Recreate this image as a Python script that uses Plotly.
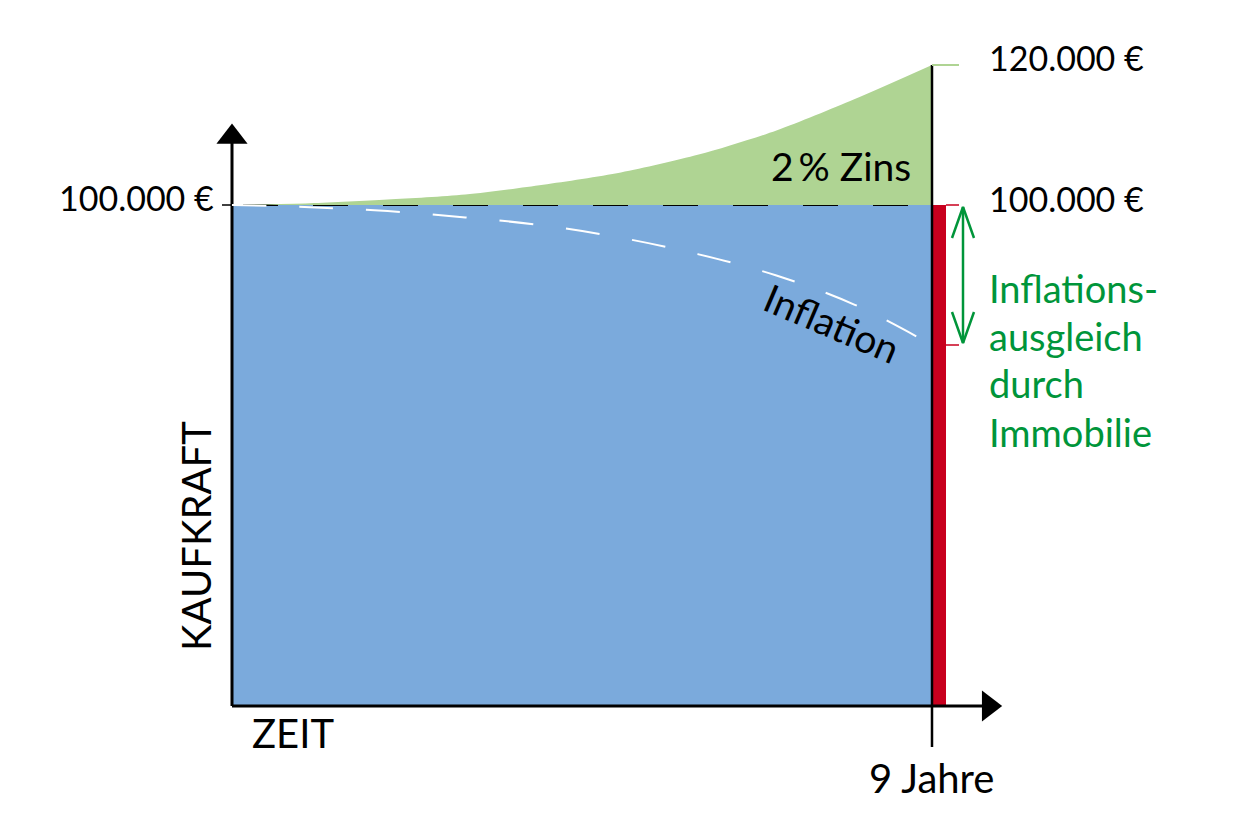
import plotly.graph_objects as go

# ---- data ----
years = [0, 1, 2, 3, 4, 5, 6, 7, 8, 9]
zins_values = [100000, 100250, 100780, 101500, 102900, 104650, 107200, 110650, 115100, 120000]
inflation_values = [100000, 99680, 99130, 98230, 97090, 95320, 92950, 89930, 85780, 80000]
start_value = 100000
top_value = 120000
horizon = 9
tick_labels = ["100.000 €", "120.000 €", "100.000 €"]

BLUE = "#7BAADC"
GREEN = "#AFD493"
RED = "#C8001E"
TEXT_GREEN = "#00953A"
FONT = "Lato, Open Sans, sans-serif"
FS = 39
FS_NUM = 34

OFF = 8  # default page margin of the html body
W, H = 1240 - OFF, 827 - OFF
# pixel calibration of the schematic (reference pixels)
X0_PX, X9_PX = 232, 932
sx = (X9_PX - X0_PX) / horizon
Y1_ZERO_PX, Y1_START_PX = 706, 205
s1 = (Y1_ZERO_PX - Y1_START_PX) / start_value
s2 = (205 - 65) / (top_value - start_value)

def x_of(px):
    return (px - X0_PX) / sx

def y1_of(py):
    return (Y1_ZERO_PX - py) / s1

def y2_of(py):
    return start_value + (205 - py) / s2

fig = go.Figure()

def line(x, y, color, width, yaxis="y", dash=None, shape="linear"):
    fig.add_trace(go.Scatter(x=x, y=y, yaxis=yaxis, mode="lines",
                             line=dict(color=color, width=width, dash=dash, shape=shape),
                             hoverinfo="skip", showlegend=False))

# blue purchasing power block
fig.add_trace(go.Scatter(x=[0, horizon, horizon, 0, 0], y=[0, 0, start_value, start_value, 0],
                         fill="toself", fillcolor=BLUE, mode="lines", line=dict(width=0),
                         hoverinfo="skip", showlegend=False))
# green interest area
fig.add_trace(go.Scatter(x=years, y=[start_value] * len(years), yaxis="y2", mode="lines",
                         line=dict(width=0, color=GREEN), hoverinfo="skip", showlegend=False))
fig.add_trace(go.Scatter(x=years, y=zins_values, yaxis="y2", mode="lines", fill="tonexty",
                         fillcolor=GREEN, line=dict(width=0, color=GREEN, shape="spline", smoothing=0.8),
                         hoverinfo="skip", showlegend=False))
# red bar
fig.add_trace(go.Scatter(x=[horizon, x_of(946), x_of(946), horizon, horizon],
                         y=[0, 0, start_value, start_value, 0],
                         fill="toself", fillcolor=RED, mode="lines", line=dict(width=0),
                         hoverinfo="skip", showlegend=False))
# black dashed 100.000 line
line([0, horizon], [start_value, start_value], "black", 2, dash="0px,11px,35px,24px")
# white dashed inflation curve
line(years, inflation_values, "white", 2, yaxis="y2", dash="34px,33px", shape="spline")

# axes
line([0, 0], [0, y1_of(143)], "black", 3)
line([0, x_of(983)], [0, 0], "black", 3)
line([horizon, horizon], [y2_of(747), top_value], "black", 2.5, yaxis="y2")
line([x_of(222), 0], [start_value, start_value], "black", 1.5)
fig.add_trace(go.Scatter(x=[0], y=[y1_of(137)], mode="markers",
                         marker=dict(symbol="triangle-up", size=27, color="black"),
                         hoverinfo="skip", showlegend=False))
fig.add_trace(go.Scatter(x=[x_of(988.7)], y=[0], mode="markers",
                         marker=dict(symbol="triangle-right", size=27, color="black"),
                         hoverinfo="skip", showlegend=False))

# right side ticks
line([horizon, x_of(959)], [top_value, top_value], GREEN, 2, yaxis="y2")
line([x_of(946), x_of(959)], [start_value, start_value], RED, 1.5, yaxis="y2")
line([x_of(946), x_of(959)], [inflation_values[-1], inflation_values[-1]], RED, 1.5, yaxis="y2")

# green double arrow
ax = x_of(963)
line([ax, ax], [y2_of(207), y2_of(343)], TEXT_GREEN, 2.5, yaxis="y2")
line([x_of(952), ax, x_of(974)], [y2_of(238), y2_of(207), y2_of(238)], TEXT_GREEN, 2.5, yaxis="y2")
line([x_of(952), ax, x_of(974)], [y2_of(312), y2_of(343), y2_of(312)], TEXT_GREEN, 2.5, yaxis="y2")

annotations = []

def txt(text, px, py, xanchor="center", color="black", angle=0, size=FS):
    # px, py: reference pixel positions (cap centre)
    annotations.append(dict(text=text, x=(px - OFF) / W, y=1 - (py - OFF - 3) / H,
                            xref="paper", yref="paper",
                            xanchor=xanchor, yanchor="middle", showarrow=False, textangle=angle,
                            font=dict(family=FONT, size=size, color=color)))

txt(tick_labels[0], 216, 200, xanchor="right", size=FS_NUM)
txt(tick_labels[1], 987, 60, xanchor="left", size=FS_NUM)
txt(tick_labels[2], 987, 201, xanchor="left", size=FS_NUM)
txt("2\u2009% Zins", 913, 169, xanchor="right")
txt("Inflation", 832, 326, angle=23)
annotations.append(dict(text="KAUFKRAFT", x=(199 - OFF - 3) / W, y=1 - (536 - OFF) / H,
                        xref="paper", yref="paper", xanchor="center", yanchor="middle",
                        showarrow=False, textangle=-90,
                        font=dict(family=FONT, size=FS + 1, color="black")))
txt("ZEIT", 293, 736, size=FS + 1)
txt("9 Jahre", 931, 781, size=FS + 1)
for i, t in enumerate(["Inflations-", "ausgleich", "durch", "Immobilie"]):
    txt(t, 987, 290.5 + i * 48, xanchor="left", color=TEXT_GREEN, size=FS - 1)

fig.update_layout(
    width=W, height=H,
    margin=dict(l=0, r=0, t=0, b=0),
    paper_bgcolor="white", plot_bgcolor="white",
    showlegend=False,
    annotations=annotations,
    xaxis=dict(range=[x_of(OFF), x_of(OFF + W)], visible=False, fixedrange=True),
    yaxis=dict(range=[y1_of(OFF + H), y1_of(OFF)], visible=False, fixedrange=True),
    yaxis2=dict(range=[y2_of(OFF + H), y2_of(OFF)], overlaying="y", visible=False, fixedrange=True),
)

fig.write_html("out.html")
